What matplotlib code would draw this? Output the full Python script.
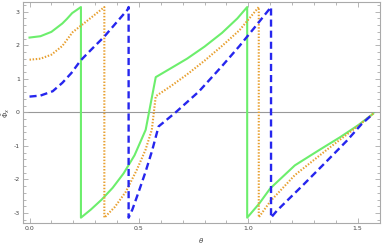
import numpy as np
import matplotlib
matplotlib.use("Agg")
import matplotlib.pyplot as plt
from matplotlib.ticker import MultipleLocator

# phase curves (vertical jumps kept as repeated x)
green_x = [0.0, 0.05, 0.10, 0.15, 0.17, 0.195, 0.235,
           0.235, 0.28, 0.33, 0.38, 0.43, 0.48, 0.531, 0.577,
           0.65, 0.72, 0.80, 0.88, 0.95, 0.995,
           0.995, 1.05, 1.10, 1.213, 1.33, 1.42, 1.503, 1.571]
green_y = [2.23, 2.27, 2.40, 2.65, 2.78, 2.96, 3.14,
           -3.14, -2.90, -2.60, -2.25, -1.82, -1.28, -0.52, 1.05,
           1.33, 1.60, 1.96, 2.37, 2.80, 3.14,
           -3.14, -2.72, -2.27, -1.58, -1.10, -0.74, -0.38, -0.04]

orange_x = [0.0, 0.05, 0.10, 0.15, 0.197, 0.25, 0.30, 0.342,
            0.342, 0.39, 0.44, 0.49, 0.53, 0.559, 0.577,
            0.65, 0.72, 0.80, 0.88, 0.96, 1.048,
            1.048, 1.101, 1.213, 1.36, 1.503, 1.571]
orange_y = [1.57, 1.60, 1.72, 1.98, 2.39, 2.66, 2.92, 3.14,
            -3.14, -2.82, -2.37, -1.72, -1.12, -0.52, 0.48,
            0.80, 1.13, 1.54, 1.98, 2.45, 3.14,
            -3.13, -2.65, -1.87, -1.11, -0.40, -0.04]

blue_x = [0.0, 0.05, 0.106, 0.15, 0.191, 0.234, 0.282, 0.342, 0.40, 0.448, 0.453,
          0.453, 0.47, 0.50, 0.53, 0.56, 0.59,
          0.668, 0.774, 0.88, 0.96, 1.04, 1.104,
          1.104, 1.131, 1.25, 1.352, 1.45, 1.518, 1.571]
blue_y = [0.47, 0.50, 0.63, 0.88, 1.17, 1.55, 1.87, 2.26, 2.70, 3.06, 3.14,
          -3.14, -2.90, -2.35, -1.78, -1.15, -0.42,
          0.0, 0.62, 1.38, 1.98, 2.62, 3.14,
          -3.14, -2.93, -2.17, -1.50, -0.85, -0.35, -0.04]

fig = plt.figure(figsize=(3.84, 2.46), dpi=100)
ax = fig.add_axes([0.059, 0.0935, 0.9306, 0.8995])

ax.axhline(0, color="#999999", lw=0.8, zorder=1)
ax.plot(green_x, green_y, color="#6CEE6C", lw=1.5, zorder=3)
ax.plot(orange_x, orange_y, color="#E8A030", lw=1.5, ls=(0, (0.7, 0.8)), zorder=4)
ax.plot(blue_x, blue_y, color="#2626EE", lw=1.7, ls=(0, (3.0, 1.7)), zorder=5)

ax.set_xlim(-0.0314, 1.6022)
ax.set_ylim(-np.pi * 1.05, np.pi * 1.05)

ax.xaxis.set_major_locator(MultipleLocator(0.5))
ax.xaxis.set_minor_locator(MultipleLocator(0.1))
ax.yaxis.set_major_locator(MultipleLocator(1))
ax.yaxis.set_minor_locator(MultipleLocator(0.2))
ax.xaxis.set_major_formatter(matplotlib.ticker.FormatStrFormatter("%.1f"))
ax.yaxis.set_major_formatter(matplotlib.ticker.FormatStrFormatter("%d"))

for s in ax.spines.values():
    s.set_color("#AAAAAA")
    s.set_linewidth(0.8)
ax.tick_params(which="both", direction="in", top=True, right=True,
               color="#AAAAAA", width=0.6, labelsize=4.5, labelcolor="#444444", pad=2)
ax.tick_params(which="major", length=3.5)
ax.tick_params(which="minor", length=2)

ax.set_xlabel(r"$\theta$", fontsize=5, color="#444444", labelpad=4)
ax.set_ylabel(r"$\bar{\Phi}_x$", fontsize=5, color="#444444", labelpad=1)

fig.savefig("out.png", dpi=100)
